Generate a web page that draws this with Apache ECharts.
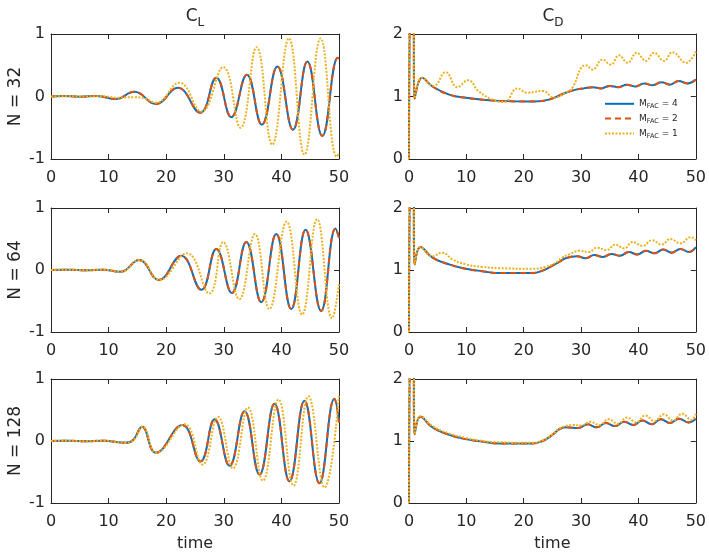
<!DOCTYPE html>
<html><head><meta charset="utf-8">
<script src="https://cdn.jsdelivr.net/npm/echarts@6/dist/echarts.min.js"></script>
<style>html,body{margin:0;padding:0;background:#fff}#c{width:709px;height:555px}</style>
</head><body><div id="c"></div>
<script>
// ---- tick labels / categories ----
const xTicks = [0, 10, 20, 30, 40, 50];
const clRange = [-1, 1];
const cdRange = [0, 2];
const rowLabels = ['N = 32', 'N = 64', 'N = 128'];
const colTitles = ['L', 'D'];
const seriesNames = ['M_FAC = 4', 'M_FAC = 2', 'M_FAC = 1'];

// ---- C_L values [time, value] ----
const CL32_M4 = [[0,0],[2,0.01],[5,-0.005],[8,0.01],[11.2,-0.04],[14.5,0.075],[18.2,-0.12],[22,0.14],[25.9,-0.26],[28.7,0.30],[31.3,-0.33],[34,0.35],[36.6,-0.45],[39.3,0.48],[42,-0.53],[44.5,0.56],[47.1,-0.63],[49.8,0.62],[50,0.61]];
const CL32_M2 = [[0,0],[2,0.01],[5,-0.005],[8,0.01],[11.2,-0.04],[14.5,0.075],[18.2,-0.12],[22,0.14],[25.9,-0.26],[28.7,0.30],[31.3,-0.33],[34,0.35],[36.6,-0.45],[39.3,0.48],[42,-0.53],[44.5,0.56],[47.1,-0.63],[49.8,0.62],[50,0.61]];
const CL32_M1 = [[0,0],[3,0.005],[6,0],[9,0.005],[11.5,-0.02],[14.5,-0.01],[16.5,-0.04],[18.2,-0.10],[22.3,0.22],[26.1,-0.24],[29.9,0.47],[32.9,-0.50],[35.7,0.79],[38.4,-0.77],[41.3,0.93],[44,-0.93],[46.8,0.93],[49.6,-0.96],[50,-0.92]];

const CL64_M4 = [[0,0],[3,0.005],[6,-0.005],[9,0.005],[12,-0.03],[15.3,0.16],[18.7,-0.16],[22.6,0.23],[26.1,-0.32],[28.7,0.34],[31.4,-0.37],[33.9,0.45],[36.5,-0.52],[39.1,0.58],[41.7,-0.63],[44.2,0.65],[46.9,-0.66],[49.4,0.67],[50,0.52]];
const CL64_M2 = [[0,0],[3,0.005],[6,-0.005],[9,0.005],[12,-0.03],[15.3,0.16],[18.7,-0.16],[22.6,0.23],[26.1,-0.32],[28.7,0.34],[31.4,-0.37],[33.9,0.45],[36.5,-0.52],[39.1,0.58],[41.7,-0.63],[44.2,0.65],[46.9,-0.66],[49.4,0.67],[50,0.52]];
const CL64_M1 = [[0,0],[3,0.005],[6,-0.005],[9,0.005],[12,-0.03],[15.4,0.16],[18.8,-0.16],[23.6,0.27],[27.5,-0.38],[29.9,0.45],[32.7,-0.47],[35.4,0.58],[37.9,-0.63],[40.9,0.78],[43.6,-0.72],[46.2,0.82],[48.8,-0.78],[50,-0.23]];

const CL128_M4 = [[0,0],[3,0.005],[6,-0.005],[9,0.005],[13,-0.03],[14.3,0.02],[15.8,0.23],[18.2,-0.19],[22.8,0.26],[25.95,-0.33],[28.4,0.35],[31,-0.4],[33.6,0.48],[36.2,-0.54],[38.8,0.6],[41.4,-0.65],[44,0.65],[46.6,-0.68],[49.2,0.68],[50,0.3]];
const CL128_M2 = [[0,0],[3,0.005],[6,-0.005],[9,0.005],[13,-0.03],[14.3,0.02],[15.8,0.23],[18.2,-0.19],[22.8,0.26],[25.95,-0.33],[28.4,0.35],[31,-0.4],[33.6,0.48],[36.2,-0.54],[38.8,0.6],[41.4,-0.65],[44,0.65],[46.6,-0.68],[49.2,0.68],[50,0.3]];
const CL128_M1 = [[0,0],[3,0.005],[6,-0.005],[9,0.005],[13,-0.03],[14.4,0.02],[15.9,0.23],[18.3,-0.19],[23.2,0.27],[26.3,-0.38],[29,0.39],[31.6,-0.44],[34.2,0.54],[36.8,-0.64],[39.5,0.67],[42.1,-0.72],[44.7,0.72],[47.5,-0.75],[50,0.75]];

// ---- C_D values [time, value] ----
const CD32_M4 = [[0,0],[0.3,2.5],[0.7,2.5],[1,0.97],[2.3,1.3],[4.1,1.16],[7,1.03],[9.9,0.98],[15.7,0.93],[21.5,0.92],[24.4,0.95],[27.3,1.06],[29.1,1.11],[30.5,1.13],[32,1.15],[33.5,1.13],[35,1.17],[36.5,1.15],[38,1.19],[39.5,1.16],[41,1.21],[42.5,1.18],[44,1.23],[45.5,1.19],[47,1.25],[48.5,1.21],[50,1.27]];
const CD32_M2 = [[0,0],[0.3,2.5],[0.7,2.5],[1,0.97],[2.3,1.3],[4.1,1.16],[7,1.03],[9.9,0.98],[15.7,0.93],[21.5,0.92],[24.4,0.95],[27.3,1.06],[29.1,1.11],[30.5,1.13],[32,1.15],[33.5,1.13],[35,1.17],[36.5,1.15],[38,1.19],[39.5,1.16],[41,1.21],[42.5,1.18],[44,1.23],[45.5,1.19],[47,1.25],[48.5,1.21],[50,1.27]];
const CD32_M1 = [[0,0],[0.25,2.5],[0.75,2.5],[1,0.97],[2.3,1.3],[4.3,1.17],[6.4,1.39],[8.4,1.15],[10.3,1.26],[12.2,1.08],[15.1,0.93],[16.6,0.91],[18.9,1.13],[20.6,1.06],[23.3,1.09],[25.3,0.98],[27.3,1.06],[28.5,1.14],[30,1.46],[30.8,1.5],[32,1.43],[33.7,1.59],[35.2,1.51],[36.6,1.66],[38.1,1.54],[39.7,1.7],[41.3,1.57],[42.7,1.7],[44.5,1.57],[45.9,1.71],[48.3,1.54],[50,1.72]];

const CD64_M4 = [[0,0],[0.3,2.5],[0.7,2.5],[1,1.09],[2,1.37],[4.1,1.2],[7,1.09],[9.9,1.02],[12.8,0.98],[15.7,0.95],[18.6,0.95],[21.5,0.95],[23.3,0.99],[25,1.07],[26.2,1.13],[27.3,1.19],[29.3,1.22],[30.8,1.19],[32.3,1.24],[33.8,1.21],[35.3,1.26],[36.8,1.23],[38.3,1.29],[39.8,1.25],[41.3,1.31],[42.8,1.27],[44.3,1.33],[45.8,1.28],[47.3,1.34],[48.8,1.29],[50,1.37]];
const CD64_M2 = [[0,0],[0.3,2.5],[0.7,2.5],[1,1.09],[2,1.37],[4.1,1.2],[7,1.09],[9.9,1.02],[12.8,0.98],[15.7,0.95],[18.6,0.95],[21.5,0.95],[23.3,0.99],[25,1.07],[26.2,1.13],[27.3,1.19],[29.3,1.22],[30.8,1.19],[32.3,1.24],[33.8,1.21],[35.3,1.26],[36.8,1.23],[38.3,1.29],[39.8,1.25],[41.3,1.31],[42.8,1.27],[44.3,1.33],[45.8,1.28],[47.3,1.34],[48.8,1.29],[50,1.37]];
const CD64_M1 = [[0,0],[0.25,2.5],[0.75,2.5],[1,1.09],[2,1.37],[4,1.22],[5.8,1.28],[7.6,1.17],[9.9,1.09],[12.8,1.05],[15.7,1.03],[21.5,1.02],[23.8,1.05],[25.6,1.12],[26.7,1.2],[27.9,1.25],[29.7,1.31],[31.3,1.29],[32.8,1.36],[34.4,1.32],[36,1.41],[37.5,1.35],[39,1.45],[40.7,1.39],[42.4,1.48],[44,1.41],[45.6,1.5],[47.3,1.43],[49.1,1.53],[50,1.48]];

const CD128_M4 = [[0,0],[0.3,2.5],[0.7,2.5],[1,1.11],[2,1.39],[4.1,1.22],[7,1.1],[9.9,1.03],[12.8,0.99],[15.7,0.96],[21.5,0.96],[23.3,1],[25,1.1],[26.2,1.19],[27.3,1.22],[29.5,1.21],[31.1,1.27],[32.7,1.22],[34.3,1.29],[35.9,1.24],[37.5,1.31],[39.1,1.26],[40.7,1.33],[42.3,1.27],[43.9,1.35],[45.5,1.29],[47.1,1.36],[48.7,1.3],[50,1.36]];
const CD128_M2 = [[0,0],[0.3,2.5],[0.7,2.5],[1,1.11],[2,1.39],[4.1,1.22],[7,1.1],[9.9,1.03],[12.8,0.99],[15.7,0.96],[21.5,0.96],[23.3,1],[25,1.1],[26.2,1.19],[27.3,1.22],[29.5,1.21],[31.1,1.27],[32.7,1.22],[34.3,1.29],[35.9,1.24],[37.5,1.31],[39.1,1.26],[40.7,1.33],[42.3,1.27],[43.9,1.35],[45.5,1.29],[47.1,1.36],[48.7,1.3],[50,1.36]];
const CD128_M1 = [[0,0],[0.25,2.5],[0.75,2.5],[1,1.11],[2,1.4],[4.1,1.24],[7,1.12],[9.9,1.05],[12.8,1],[15.7,0.98],[21.5,0.97],[23.3,1.01],[25,1.11],[26.2,1.2],[27.3,1.24],[28.5,1.26],[30,1.25],[31.6,1.31],[33.2,1.26],[34.8,1.35],[36.4,1.28],[38,1.38],[39.6,1.3],[41.2,1.41],[42.8,1.32],[44.4,1.43],[46,1.33],[47.6,1.44],[49.2,1.34],[50,1.44]];

// ---- build ----
const FONT = 'DejaVu Sans';
const INK = '#262626';
const COLORS = ['#0072BD', '#D95319', '#EDB120'];
const LINE_TYPES = ['solid', [6, 4], [2, 1.5]];

const panels = [
  { row: 0, col: 0, data: [CL32_M4, CL32_M2, CL32_M1] },
  { row: 0, col: 1, data: [CD32_M4, CD32_M2, CD32_M1] },
  { row: 1, col: 0, data: [CL64_M4, CL64_M2, CL64_M1] },
  { row: 1, col: 1, data: [CD64_M4, CD64_M2, CD64_M1] },
  { row: 2, col: 0, data: [CL128_M4, CL128_M2, CL128_M1] },
  { row: 2, col: 1, data: [CD128_M4, CD128_M2, CD128_M1] }
];

const gridTops = [34, 208, 379];
const gridHeights = [125, 124, 124];
const gridLefts = [51, 409];
const gridWidth = 288;

const grid = [], xAxis = [], yAxis = [], series = [];
const tickStyle = { show: true, inside: true, length: 5, lineStyle: { color: INK, width: 1 } };
const lineStyleAx = { show: true, onZero: false, lineStyle: { color: INK, width: 1 } };
const labelStyle = { fontSize: 16, color: INK, fontFamily: FONT };

panels.forEach((p, i) => {
  grid.push({ left: gridLefts[p.col], top: gridTops[p.row], width: gridWidth, height: gridHeights[p.row] });
  const range = p.col === 0 ? clRange : cdRange;
  const isBottom = p.row === 2;
  xAxis.push({
    gridIndex: i, type: 'value', position: 'bottom', min: xTicks[0], max: xTicks[xTicks.length - 1], interval: 10,
    axisLine: lineStyleAx, axisTick: tickStyle, splitLine: { show: false },
    axisLabel: Object.assign({ margin: 11 }, labelStyle),
    name: isBottom ? 'time' : '', nameLocation: 'middle', nameGap: 33,
    nameTextStyle: { fontSize: 16, color: INK, fontFamily: FONT }
  });
  xAxis.push({
    gridIndex: i, type: 'value', position: 'top', min: xTicks[0], max: xTicks[xTicks.length - 1], interval: 10,
    axisLine: lineStyleAx, axisTick: tickStyle, splitLine: { show: false }, axisLabel: { show: false }
  });
  yAxis.push({
    gridIndex: i, type: 'value', position: 'left', min: range[0], max: range[1], interval: 1,
    axisLine: lineStyleAx, axisTick: tickStyle, splitLine: { show: false },
    axisLabel: Object.assign({ margin: 6 }, labelStyle),
    name: p.col === 0 ? rowLabels[p.row] : '', nameLocation: 'middle', nameGap: 27, nameRotate: 90,
    nameTextStyle: { fontSize: 17, color: INK, fontFamily: FONT }
  });
  yAxis.push({
    gridIndex: i, type: 'value', position: 'right', min: range[0], max: range[1], interval: 1,
    axisLine: lineStyleAx, axisTick: tickStyle, splitLine: { show: false }, axisLabel: { show: false }
  });
  p.data.forEach((d, k) => {
    series.push({
      type: 'line', name: seriesNames[k], xAxisIndex: 2 * i, yAxisIndex: 2 * i,
      data: d, symbol: 'none', smooth: 0.45, clip: true,
      lineStyle: { color: COLORS[k], width: 2, type: LINE_TYPES[k] },
      itemStyle: { color: COLORS[k] }, z: 2 + k
    });
  });
});

const title = colTitles.map((t, c) => ({
  text: '{c|C}{s|' + t + '}',
  left: gridLefts[c] + gridWidth / 2, top: 5, textAlign: 'center', padding: 0,
  textStyle: { fontWeight: 'normal', rich: {
    c: { fontSize: 17, color: INK, fontFamily: FONT, fontWeight: 'normal' },
    s: { fontSize: 12, color: INK, fontFamily: FONT, fontWeight: 'normal', padding: [12, 0, 0, 0] }
  } }
}));

const chart = echarts.init(document.getElementById('c'), null, { renderer: 'canvas' });
chart.setOption({
  animation: false,
  backgroundColor: '#ffffff',
  title: title,
  legend: {
    data: seriesNames, orient: 'vertical', left: 604, top: 99, padding: 0,
    itemWidth: 29, itemHeight: 12, itemGap: 4, selectedMode: false,
    itemStyle: { opacity: 0, borderWidth: 0 },
    formatter: n => n.replace('M_FAC', 'M{s|FAC}'),
    textStyle: { fontSize: 9, color: INK, fontFamily: FONT,
      rich: { s: { fontSize: 6.5, color: INK, fontFamily: FONT, padding: [5, 0, 0, 0] } } }
  },
  grid: grid, xAxis: xAxis, yAxis: yAxis, series: series
});
</script></body></html>
